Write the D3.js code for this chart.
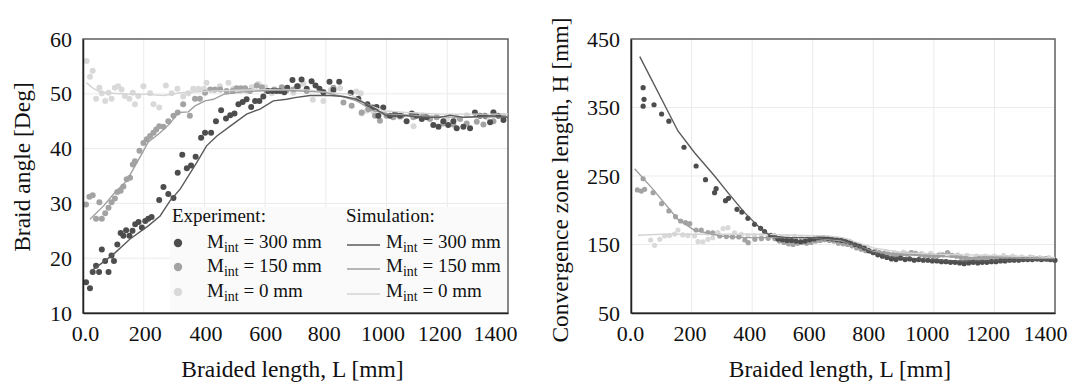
<!DOCTYPE html>
<html>
<head>
<meta charset="utf-8">
<script src="https://cdn.jsdelivr.net/npm/d3@7"></script>
<style>
  body { margin: 0; background: #fff; }
</style>
</head>
<body>
<div id="chart"></div>
<script>
// ---- data: braid angle (left panel) ----
const angleExp300 = [[10,15.6],[23,14.5],[32,17.5],[43,18.6],[53,17.5],[62,21.6],[73,19.5],[84,17.5],[94,20.5],[102,19.5],[113,22.5],[124,24.6],[133,24.1],[142,25.1],[153,24.1],[163,25],[172,26.2],[183,26.6],[194,25.6],[205,26.8],[215,27.2],[226,27.5],[251,30.6],[265,33],[281,31.7],[298,31],[312,35.6],[327,38.9],[342,36.4],[356,36.9],[371,38.5],[389,42],[402,42.9],[422,42.9],[438,45],[455,47],[471,45.5],[485,46.1],[499,46.4],[512,48.1],[526,48.5],[539,49],[554,47.6],[567,48.7],[581,48.7],[594,49.5],[610,50.5],[624,50.5],[637,50.5],[649,50.5],[663,50.3],[673,51.1],[690,52.5],[706,51.4],[720,52.6],[737,50.9],[753,52.3],[766,51.5],[779,50.9],[792,50.3],[812,52.2],[825,50.7],[844,52.2],[882,50.2],[907,49.1],[937,48.1],[953,47.5],[967,47.6],[973,46],[989,47.5],[1011,46],[1028,46.3],[1044,46],[1066,45],[1083,46.4],[1099,46],[1116,45.4],[1132,45.7],[1154,44.3],[1171,44],[1187,45],[1203,44.3],[1220,45],[1231,43.7],[1253,44],[1275,43.7],[1291,46.6],[1308,46],[1324,46],[1341,44.8],[1352,46.6],[1368,46],[1385,45.2]];
const angleExp150 = [[10,29.8],[21,31.2],[32,31.5],[43,27.2],[54,30.2],[62,27.2],[73,28.2],[84,29.2],[94,30.2],[105,30.9],[113,32.1],[124,32.3],[133,33.1],[144,34.4],[155,34.7],[164,37.1],[171,37.7],[186,39.6],[199,41],[210,41.7],[221,42.3],[232,42.9],[241,43.5],[251,44.1],[265,44],[281,45],[298,46],[312,46.6],[330,48.1],[352,46],[369,49.1],[385,49.1],[402,50.2],[419,50.8],[435,50.8],[452,50.8],[473,50.5],[493,50.5],[506,51],[520,51],[534,51],[550,50.5],[572,51.5],[589,51.2],[605,50.5],[630,50.8],[655,51.2],[670,50.6],[693,50.8],[709,51.4],[737,50.5],[792,50.3],[825,51.1],[858,48.4],[885,47.8],[918,46.6],[940,47.2],[962,46],[978,45.1],[1000,46],[1022,45.7],[1050,46],[1088,45.7],[1121,46],[1143,45.4],[1165,45.7],[1187,44.6],[1220,44.4],[1242,45.4],[1264,44.6],[1297,44.9],[1319,44.4],[1352,45],[1385,45.7]];
const angleExp0 = [[12,56],[23,53.1],[32,54.2],[43,49.1],[54,51.1],[62,50.1],[73,48.7],[84,50.2],[94,49.1],[105,51.1],[116,51.4],[127,50.8],[138,49.6],[153,49.1],[164,50.2],[171,48.1],[182,49.6],[199,51.4],[221,50.1],[232,48.1],[251,47.5],[273,51.5],[292,50.1],[311,50.9],[330,49.5],[347,50.1],[363,50.9],[380,50.9],[398,50.9],[407,52],[429,50.7],[451,51.4],[479,52],[495,50.9],[517,50.5],[539,50.5],[556,51.2],[578,51.8],[600,51.2],[622,50.1],[644,50.5],[666,50.7],[693,50.2],[704,51.4],[726,51.9],[757,48.9],[792,48.7],[816,50.7],[847,51],[900,50.4],[915,50.1],[918,46.4],[935,46.9],[957,46.7],[990,46.6],[1033,46],[1044,45.7],[1089,44.1],[1121,46],[1165,45.7],[1198,45.4],[1231,45.7],[1264,46.1],[1297,46],[1330,45.7],[1352,46.7],[1385,46]];
const angleSim300 = [[23,17.5],[50,18.6],[100,20.7],[155,23.5],[215,25.9],[254,27.7],[287,30.5],[320,32.6],[374,37.4],[407,40.5],[441,42.3],[485,44.1],[539,46.3],[583,47.2],[627,48.7],[671,49],[698,49.3],[748,49.7],[814,49.7],[858,49.5],[902,49],[946,47.8],[1000,46],[1066,46],[1121,45.7],[1176,45.7],[1209,46.1],[1253,45.7],[1341,46],[1400,45.7]];
const angleSim150 = [[23,27.1],[67,29.5],[105,32],[144,34.1],[171,36.8],[199,39.6],[215,41.2],[254,42.9],[287,44.6],[314,46.6],[347,46.7],[369,47.8],[402,48.7],[430,49],[463,49.9],[518,50.3],[573,50.5],[649,50.7],[715,50.5],[792,50.3],[847,49.6],[902,48.7],[957,46.9],[1011,46.3],[1121,46],[1231,45.7],[1400,45.8]];
const angleSim0 = [[12,52],[34,51],[56,50.3],[100,50.1],[155,49.9],[210,49.9],[265,49.7],[320,50.2],[430,50.5],[539,50.7],[649,50.8],[737,50.7],[814,50.2],[880,49.9],[935,48.1],[990,46.9],[1066,46.6],[1176,46.3],[1286,46.3],[1400,46.3]];

// ---- data: convergence zone length (right panel) ----
const zoneExp300 = [[40,379],[43,362],[40,352],[76,354],[101,340.5],[125,330],[175,292],[215,264.6],[246,244.6],[276,225.7],[281,231.5],[312,214],[322,217.4],[350,201.3],[366,197.4],[386,188.2],[408,179.4],[428,173.6],[441,168.8],[461,163.4],[474,162.4],[485,158],[500,157],[515,156],[530,156],[545,155],[560,154],[575,155],[590,157],[605,158],[620,160],[635,160],[650,159],[665,158],[680,157],[695,156],[710,155],[725,153],[740,150],[755,148],[770,145],[785,141],[800,138],[815,135],[830,133],[845,131],[860,129],[875,128],[890,130],[905,128],[920,129],[935,127],[950,128],[965,127],[980,127],[995,126],[1010,126],[1025,125],[1040,125],[1055,124],[1070,124],[1085,123],[1100,122],[1115,123],[1130,124],[1145,123],[1160,124],[1175,124],[1190,125],[1205,125],[1220,126],[1235,126],[1250,127],[1265,127],[1280,127],[1295,128],[1310,128],[1325,128],[1340,129],[1355,128],[1370,129],[1385,128],[1400,127]];
const zoneExp150 = [[21,229.6],[34,228],[40,246],[45,230.5],[73,225.7],[101,209.6],[125,199],[147,190.6],[164,184.3],[180,182],[194,180.4],[215,171.2],[232,171],[254,167.3],[270,167],[293,162.4],[315,161.5],[335,161],[356,161],[376,156.6],[387,152.7],[409,157.5],[431,158.5],[453,159],[475,158.5],[490,155],[505,153],[520,151],[535,150],[550,152],[565,153],[580,152],[595,153],[610,155],[625,156],[640,157],[655,156],[670,155],[685,152],[700,151],[715,150],[730,148],[745,145],[760,143],[775,141],[790,140],[805,140],[820,138],[835,137],[850,136],[865,135],[880,135],[895,136],[910,136],[925,138],[940,137],[955,135],[970,134],[985,134],[1000,133],[1015,134],[1030,135],[1045,138],[1060,134],[1075,133],[1090,131],[1105,130],[1120,128],[1135,128],[1150,130],[1165,130],[1180,131],[1195,131],[1210,131],[1225,130],[1240,131],[1255,130],[1270,130],[1285,129],[1300,129],[1315,130],[1330,130],[1345,129],[1360,129],[1375,128],[1390,128]];
const zoneExp0 = [[65,156.6],[78,148.8],[95,157.6],[111,162.4],[127,163],[144,165.2],[155,171.2],[171,164],[188,163],[210,162.4],[221,154.2],[237,154],[254,157.5],[270,160],[287,167.3],[304,173.2],[320,174.6],[342,167],[364,165],[386,163],[408,162.5],[430,163],[452,162],[474,160.5],[496,160.5],[518,161],[540,162],[562,160],[584,160],[606,159],[630,160],[660,158],[690,157],[720,155],[750,150],[780,146],[810,141],[840,139],[870,138],[900,139],[930,138],[960,137],[990,137],[1020,136],[1050,136],[1080,135],[1110,134],[1140,133],[1170,133],[1200,133],[1230,134],[1260,133],[1290,132],[1320,132],[1350,131],[1380,131]];
const zoneSim300 = [[29,424.2],[155,315.7],[210,284],[276,250],[320,225.7],[375,196.5],[430,172.2],[463,162.4],[518,160],[595,160],[694,157.5],[734,150.3],[800,138],[855,132],[965,128.4],[1075,126],[1185,126],[1295,127.4],[1400,127.4]];
const zoneSim150 = [[12,260.7],[73,230.5],[155,186.7],[210,170.7],[298,162.4],[376,160],[485,160],[595,160],[700,155],[800,140],[900,135],[1000,133],[1100,131],[1200,131],[1400,129]];
const zoneSim0 = [[23,163.4],[100,165],[210,165],[320,165],[430,165],[540,163.4],[650,162.4],[700,160],[800,145],[900,138],[1000,136],[1200,134],[1400,131]];

// ---- ticks and labels ----
const xTicks = [0, 200, 400, 600, 800, 1000, 1200, 1400];
const angleTicks = [10, 20, 30, 40, 50, 60];
const zoneTicks = [50, 150, 250, 350, 450];
const seriesLabels = ['300 mm', '150 mm', '0 mm'];

const dotColors = ['#4d4d4d', '#a3a3a3', '#d9d9d9'];
const lineColors = ['#5a5a5a', '#9f9f9f', '#d4d4d4'];
const serif = 'Liberation Serif';

const svg = d3.select('#chart')
  .append('svg')
  .attr('width', 1075)
  .attr('height', 389)
  .attr('font-family', serif);

function drawPanel(cfg) {
  const x = d3.scaleLinear().domain([0, 1400]).range([cfg.left, cfg.right]);
  const y = d3.scaleLinear().domain(cfg.yDomain).range([cfg.bottom, cfg.top]);
  const g = svg.append('g');

  // grid
  g.append('g').selectAll('line')
    .data(xTicks.slice(1, -1))
    .enter().append('line')
    .attr('x1', d => x(d)).attr('x2', d => x(d))
    .attr('y1', cfg.top).attr('y2', cfg.bottom)
    .attr('stroke', '#ebebeb');
  g.append('g').selectAll('line')
    .data(cfg.yTicks.slice(1, -1))
    .enter().append('line')
    .attr('x1', cfg.left).attr('x2', cfg.right)
    .attr('y1', d => y(d)).attr('y2', d => y(d))
    .attr('stroke', '#ebebeb');

  // frame
  g.append('rect')
    .attr('x', cfg.left).attr('y', cfg.top)
    .attr('width', cfg.right - cfg.left).attr('height', cfg.bottom - cfg.top)
    .attr('fill', 'none')
    .attr('stroke', '#5f5f5f')
    .attr('stroke-width', 1.5);

  // experiment dots, lightest first so the dark series sits on top
  [2, 1, 0].forEach(i => {
    g.append('g').selectAll('circle')
      .data(cfg.exp[i])
      .enter().append('circle')
      .attr('cx', d => x(d[0]))
      .attr('cy', d => y(d[1]))
      .attr('r', cfg.r)
      .attr('fill', dotColors[i]);
  });

  // simulation lines
  const line = d3.line().x(d => x(d[0])).y(d => y(d[1]));
  [2, 1, 0].forEach(i => {
    g.append('path')
      .attr('d', line(cfg.sim[i]))
      .attr('fill', 'none')
      .attr('stroke', lineColors[i])
      .attr('stroke-width', 1.4);
  });

  // axes
  const xAxis = g.append('g')
    .attr('transform', `translate(0, ${cfg.bottom})`)
    .call(d3.axisBottom(x).tickValues(xTicks).tickSize(0).tickPadding(12)
      .tickFormat(d => d === 0 ? '0.0' : d));
  const yAxis = g.append('g')
    .attr('transform', `translate(${cfg.left}, 0)`)
    .call(d3.axisLeft(y).tickValues(cfg.yTicks).tickSize(0).tickPadding(11));
  [xAxis, yAxis].forEach(a => {
    a.attr('font-family', serif).attr('font-size', 22);
    a.select('.domain').attr('stroke', '#222').attr('stroke-width', 1.5);
    a.selectAll('text').attr('fill', '#111');
  });
  // labels near the right end are squeezed inward, as in the source figure
  xAxis.selectAll('.tick text')
    .attr('dy', '0.71em')
    .attr('dx', (d, i) => cfg.labelShift[i]);

  // titles
  g.append('text')
    .attr('x', (cfg.left + cfg.right) / 2 - 3)
    .attr('y', 377)
    .attr('text-anchor', 'middle')
    .attr('font-size', 23.5)
    .attr('fill', '#111')
    .text('Braided length, L [mm]');
  g.append('text')
    .attr('transform', `rotate(-90)`)
    .attr('x', -cfg.yTitleCenter)
    .attr('y', cfg.yTitleX)
    .attr('text-anchor', 'middle')
    .attr('font-size', 23.5)
    .attr('fill', '#111')
    .text(cfg.yTitle);

  return { x, y, g };
}

const left = drawPanel({
  left: 83, right: 508, top: 39, bottom: 313,
  yDomain: [10, 60], yTicks: angleTicks,
  exp: [angleExp300, angleExp150, angleExp0],
  sim: [angleSim300, angleSim150, angleSim0],
  r: 3,
  labelShift: [2, 1, 1, 0, -2, -4, -8, -13],
  yTitle: 'Braid angle [Deg]', yTitleCenter: 167, yTitleX: 30
});

drawPanel({
  left: 631, right: 1055, top: 39, bottom: 313,
  yDomain: [50, 450], yTicks: zoneTicks,
  exp: [zoneExp300, zoneExp150, zoneExp0],
  sim: [zoneSim300, zoneSim150, zoneSim0],
  r: 2.6,
  labelShift: [-1, -2, -3, -4, -5, -7, -7, -10],
  yTitle: 'Convergence zone length, H [mm]', yTitleCenter: 180, yTitleX: 568
});

// legend inside the left panel
const lg = left.g.append('g');
lg.append('rect')
  .attr('x', 170).attr('y', 207)
  .attr('width', 337).attr('height', 105)
  .attr('fill', '#fafafa')
  .attr('fill-opacity', 0.92);
lg.append('text').attr('x', 172).attr('y', 222).attr('font-size', 19).attr('fill', '#111').text('Experiment:');
lg.append('text').attr('x', 346).attr('y', 222).attr('font-size', 19).attr('fill', '#111').text('Simulation:');

const rowY = [243, 267, 292];
seriesLabels.forEach((lab, i) => {
  lg.append('circle').attr('cx', 178).attr('cy', rowY[i]).attr('r', 4.2).attr('fill', dotColors[i]);
  lg.append('line')
    .attr('x1', 347).attr('x2', 380)
    .attr('y1', rowY[i] + 2).attr('y2', rowY[i] + 2)
    .attr('stroke', lineColors[i]).attr('stroke-width', 1.6);
  [207, 386].forEach(tx => {
    const t = lg.append('text').attr('x', tx).attr('y', rowY[i] + 5)
      .attr('font-size', 19).attr('fill', '#111');
    t.append('tspan').text('M');
    t.append('tspan').attr('font-size', 14).attr('dy', 4).text('int');
    t.append('tspan').attr('dy', -4).text(' = ' + lab);
  });
});
</script>
</body>
</html>
